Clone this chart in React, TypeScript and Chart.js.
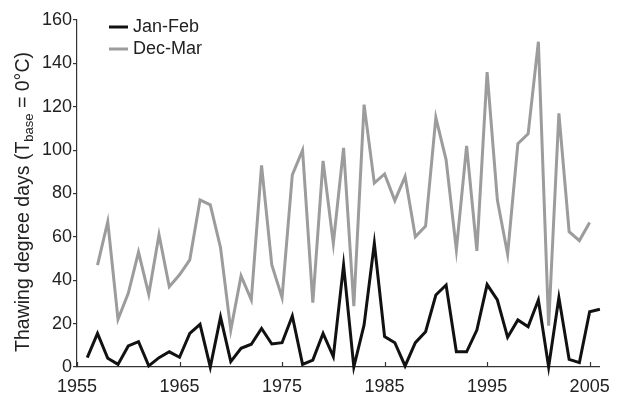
import React, { useEffect, useRef } from "react";
import { Chart, registerables } from "chart.js";

Chart.register(...registerables);

const janFebStart = 1956;
const janFebValues = [
  4.3, 15.5, 4, 1.2, 9.7, 11.7, 0.5, 4.3, 7, 4.5,
  15.5, 19.7, 0, 23, 2.5, 8.6, 10.5, 17.8, 10.6, 11.2,
  23.5, 1.2, 3.2, 15.5, 4.8, 47, 0, 19.4, 57, 14,
  11.2, 0.5, 11.2, 16.3, 33.2, 37.8, 7, 7, 17, 38,
  30.9, 13.7, 21.7, 18.6, 30.9, 0, 32, 3.5, 2, 25.5,
  26.6,
];
const decMarStart = 1957;
const decMarValues = [
  47, 67, 22, 34, 53, 33.5, 61, 37, 42.5, 49.4,
  77, 74.8, 55, 17, 42, 31, 93, 47, 32, 88.6,
  100, 29.7, 95, 57, 101, 28, 121, 84.8, 89, 76.7,
  87.8, 60, 65, 115, 95.5, 54, 102, 53.5, 136, 77,
  52, 103, 107.5, 150, 19, 117, 62.4, 58.3, 66.6,
];
const xTickYears = [1955, 1965, 1975, 1985, 1995, 2005];
const yTickValues = [0, 20, 40, 60, 80, 100, 120, 140, 160];
const seriesNames = ["Jan-Feb", "Dec-Mar"];
const seriesColors = ["#111111", "#9c9c9c"];

const FONT = "'Liberation Sans', Arial, Helvetica, sans-serif";

const toPoints = (start: number, vals: number[]) =>
  vals.map((v, i) => ({ x: start + i, y: v }));

const decorPlugin = {
  id: "decor",
  afterDraw(chart: any) {
    const { ctx, chartArea, scales } = chart;
    const xs = scales.x;
    ctx.save();
    // x ticks drawn inward
    ctx.strokeStyle = "#333";
    ctx.lineWidth = 1.2;
    xTickYears.forEach((yr) => {
      const px = Math.round(xs.getPixelForValue(yr)) + 0.5;
      ctx.beginPath();
      ctx.moveTo(px, chartArea.bottom);
      ctx.lineTo(px, chartArea.bottom - 5);
      ctx.stroke();
    });
    // legend
    ctx.font = `18px ${FONT}`;
    ctx.textBaseline = "middle";
    ctx.textAlign = "left";
    seriesNames.forEach((name, i) => {
      const y = 27 + i * 22;
      ctx.strokeStyle = seriesColors[i];
      ctx.lineWidth = 3;
      ctx.beginPath();
      ctx.moveTo(109, y);
      ctx.lineTo(128, y);
      ctx.stroke();
      ctx.fillStyle = "#222";
      ctx.fillText(name, 133, y);
    });
    // y title with subscript
    const p1 = "Thawing degree days (T";
    const sub = "base";
    const p2 = " = 0°C)";
    const main = 19.5;
    const small = 13;
    ctx.font = `${main}px ${FONT}`;
    const w1 = ctx.measureText(p1).width;
    const w3 = ctx.measureText(p2).width;
    ctx.font = `${small}px ${FONT}`;
    const w2 = ctx.measureText(sub).width;
    const total = w1 + w2 + w3;
    ctx.translate(22, 202);
    ctx.rotate(-Math.PI / 2);
    ctx.fillStyle = "#222";
    ctx.textBaseline = "alphabetic";
    let x0 = -total / 2;
    ctx.font = `${main}px ${FONT}`;
    ctx.fillText(p1, x0, 7);
    x0 += w1;
    ctx.font = `${small}px ${FONT}`;
    ctx.fillText(sub, x0, 11);
    x0 += w2;
    ctx.font = `${main}px ${FONT}`;
    ctx.fillText(p2, x0, 7);
    ctx.restore();
  },
};

export default function App() {
  const ref = useRef<HTMLCanvasElement | null>(null);
  useEffect(() => {
    if (!ref.current) return;
    const chart = new Chart(ref.current, {
      type: "line",
      data: {
        datasets: [
          {
            label: seriesNames[0],
            data: toPoints(janFebStart, janFebValues),
            borderColor: seriesColors[0],
            borderWidth: 3,
            pointRadius: 0,
            tension: 0,
            clip: false,
          },
          {
            label: seriesNames[1],
            data: toPoints(decMarStart, decMarValues),
            borderColor: seriesColors[1],
            borderWidth: 3,
            pointRadius: 0,
            tension: 0,
            clip: false,
          },
        ],
      },
      options: {
        animation: false,
        responsive: true,
        maintainAspectRatio: false,
        layout: { padding: { top: 20, right: 17, left: 0, bottom: 0 } },
        plugins: { legend: { display: false }, tooltip: { enabled: false } },
        scales: {
          x: {
            type: "linear",
            min: 1955,
            max: 2006,
            afterBuildTicks: (s: any) => {
              s.ticks = xTickYears.map((v) => ({ value: v }));
            },
            afterFit: (s: any) => {
              s.height = 27;
            },
            grid: { display: false, drawTicks: false },
            border: { display: true, color: "#333", width: 1.2 },
            ticks: {
              padding: 9,
              color: "#222",
              font: { family: FONT, size: 18 },
              callback: (v: any) => String(v),
              maxRotation: 0,
              autoSkip: false,
            },
          },
          y: {
            min: 0,
            max: 160,
            afterBuildTicks: (s: any) => {
              s.ticks = yTickValues.map((v) => ({ value: v }));
            },
            afterFit: (s: any) => {
              s.width = 77;
            },
            grid: {
              drawOnChartArea: false,
              drawTicks: true,
              tickLength: 4,
              color: "#333",
              lineWidth: 1.2,
            },
            border: { display: true, color: "#333", width: 1.2 },
            ticks: {
              padding: 1,
              color: "#222",
              font: { family: FONT, size: 18 },
              callback: (v: any) => String(v),
            },
          },
        },
      },
      plugins: [decorPlugin],
    });
    return () => chart.destroy();
  }, []);
  return (
    <div style={{ position: "fixed", left: 0, top: 0, width: 619, height: 394 }}>
      <canvas ref={ref} />
    </div>
  );
}
